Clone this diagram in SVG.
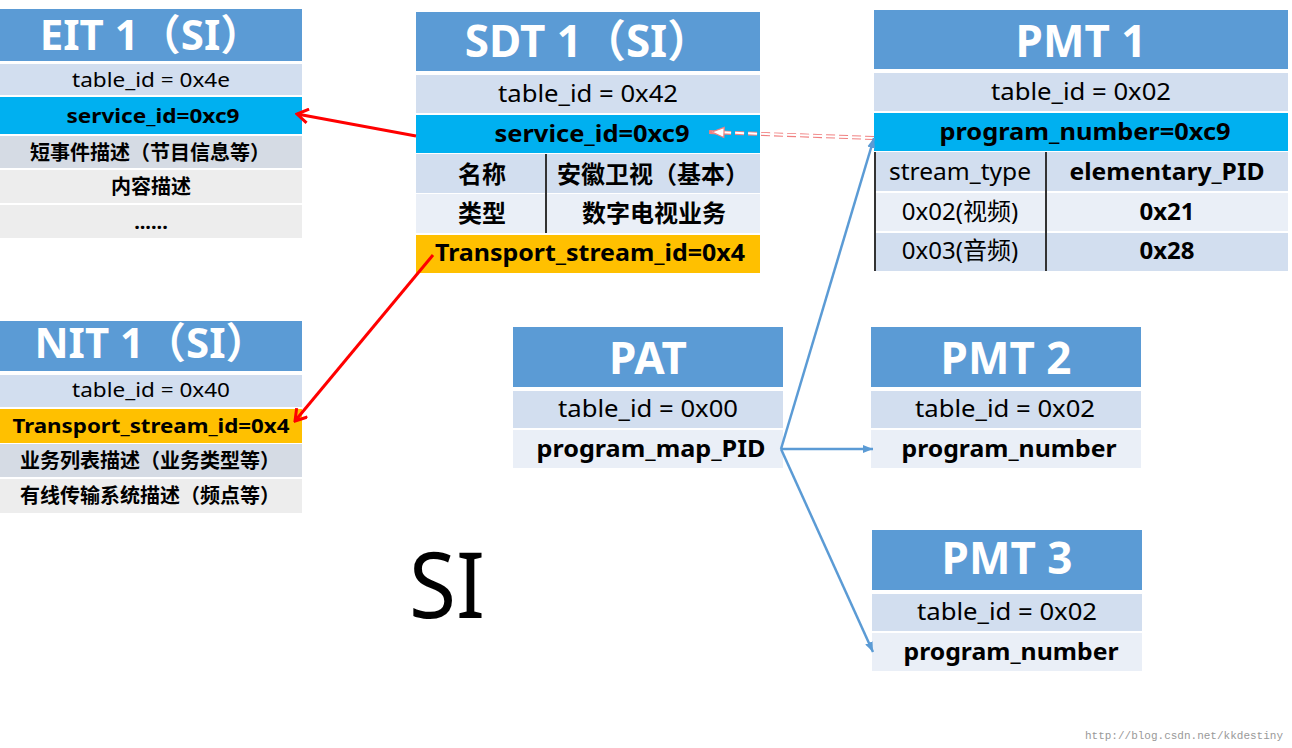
<svg xmlns="http://www.w3.org/2000/svg" width="1292" height="748" viewBox="0 0 1292 748">
<defs>
<style>
text{font-family:'Noto Sans','Noto Sans CJK SC',sans-serif;text-anchor:middle;fill:#000}
.hd{fill:#5B9BD5}
.b1{fill:#D2DEEF}
.b2{fill:#EAEFF7}
.cy{fill:#00B0F0}
.or{fill:#FFC000}
.g1{fill:#D5DBE4}
.g2{fill:#EDEDED}
.ht{font-size:42px;font-weight:bold;fill:#FFFFFF}
.t{font-size:24px}
.tb{font-size:24px;font-weight:bold}
.s{font-size:20px}
.sb{font-size:20px;font-weight:bold}
.div{stroke:#333;stroke-width:2}
.red{stroke:#FF0000;stroke-width:3;fill:none}
.blue{stroke:#5B9BD5;stroke-width:2.5;fill:none}
</style>
<marker id="ra" viewBox="0 0 16 16" refX="14" refY="8" markerWidth="16" markerHeight="16" orient="auto" markerUnits="userSpaceOnUse">
<path d="M3,1 L14,8 L3,15" fill="none" stroke="#FF0000" stroke-width="3"/>
</marker>
<marker id="ba" viewBox="0 0 10 10" refX="10" refY="5" markerWidth="10" markerHeight="10" orient="auto" markerUnits="userSpaceOnUse">
<path d="M0,1 L10,5 L0,9 z" fill="#5B9BD5"/>
</marker>
<marker id="da" viewBox="0 0 14 14" refX="13" refY="7" markerWidth="14" markerHeight="14" orient="auto" markerUnits="userSpaceOnUse">
<path d="M1,2 L13,7 L1,12 z" fill="#FFFFFF" stroke="#F08080" stroke-width="1.2"/>
</marker>
</defs>
<rect width="1292" height="748" fill="#FFFFFF"/>

<g id="eit1">
<rect class="hd" x="0" y="9" width="302" height="52"/>
<text class="ht" x="151" y="50">EIT 1（SI）</text>
<rect class="b1" x="0" y="64" width="302" height="31"/>
<text class="s" x="151" y="87" textLength="158" lengthAdjust="spacingAndGlyphs">table_id = 0x4e</text>
<rect class="cy" x="0" y="97" width="302" height="37"/>
<text class="sb" x="153" y="123" textLength="173" lengthAdjust="spacingAndGlyphs">service_id=0xc9</text>
<rect class="g1" x="0" y="136" width="302" height="32"/>
<text class="sb" x="150" y="160">短事件描述（节目信息等）</text>
<rect class="g2" x="0" y="170" width="302" height="33"/>
<text class="sb" x="151" y="194">内容描述</text>
<rect class="g2" x="0" y="205" width="302" height="33"/>
<text class="sb" x="151" y="229">......</text>
</g>

<g id="sdt1">
<rect class="hd" x="416" y="12" width="344" height="59"/>
<text class="ht" x="588" y="57" style="font-size:44px">SDT 1（SI）</text>
<rect class="b1" x="416" y="75" width="344" height="38"/>
<text class="t" x="588" y="102" textLength="180" lengthAdjust="spacingAndGlyphs">table_id = 0x42</text>
<rect class="cy" x="416" y="115" width="344" height="38"/>
<text class="tb" x="592" y="142" textLength="195" lengthAdjust="spacingAndGlyphs">service_id=0xc9</text>
<rect class="b1" x="416" y="154" width="344" height="39"/>
<text class="tb" x="482" y="183">名称</text>
<text class="tb" x="653" y="183">安徽卫视（基本）</text>
<rect class="b2" x="416" y="194" width="344" height="39"/>
<text class="tb" x="482" y="222">类型</text>
<text class="tb" x="654" y="222">数字电视业务</text>
<line class="div" x1="546" y1="154" x2="546" y2="233"/>
<rect class="or" x="416" y="235" width="344" height="38"/>
<text class="tb" x="590" y="261" textLength="310" lengthAdjust="spacingAndGlyphs">Transport_stream_id=0x4</text>
</g>

<g id="pmt1">
<rect class="hd" x="874" y="10" width="414" height="59"/>
<text class="ht" x="1081" y="57" style="font-size:44px">PMT 1</text>
<rect class="b1" x="874" y="73" width="414" height="38"/>
<text class="t" x="1081" y="100" textLength="180" lengthAdjust="spacingAndGlyphs">table_id = 0x02</text>
<rect class="cy" x="874" y="113" width="414" height="38"/>
<text class="tb" x="1085" y="140" textLength="291" lengthAdjust="spacingAndGlyphs">program_number=0xc9</text>
<rect class="b1" x="874" y="152" width="414" height="39"/>
<text class="t" x="960" y="180" textLength="142" lengthAdjust="spacingAndGlyphs">stream_type</text>
<text class="tb" x="1167" y="180" textLength="195" lengthAdjust="spacingAndGlyphs">elementary_PID</text>
<rect class="b2" x="874" y="193" width="414" height="38"/>
<text class="t" x="960" y="220">0x02(视频)</text>
<text class="tb" x="1167" y="220">0x21</text>
<rect class="b1" x="874" y="233" width="414" height="38"/>
<text class="t" x="960" y="259">0x03(音频)</text>
<text class="tb" x="1167" y="259">0x28</text>
<line class="div" x1="875" y1="152" x2="875" y2="271"/>
<line class="div" x1="1046" y1="152" x2="1046" y2="271"/>
</g>

<g id="nit1">
<rect class="hd" x="0" y="321" width="302" height="50"/>
<text class="ht" x="151" y="358">NIT 1（SI）</text>
<rect class="b1" x="0" y="375" width="302" height="32"/>
<text class="s" x="151" y="397" textLength="158" lengthAdjust="spacingAndGlyphs">table_id = 0x40</text>
<rect class="or" x="0" y="409" width="302" height="34"/>
<text class="sb" x="151" y="433" textLength="277" lengthAdjust="spacingAndGlyphs">Transport_stream_id=0x4</text>
<rect class="g1" x="0" y="444" width="302" height="33"/>
<text class="sb" x="150" y="468">业务列表描述（业务类型等）</text>
<rect class="g2" x="0" y="479" width="302" height="34"/>
<text class="sb" x="150" y="503">有线传输系统描述（频点等）</text>
</g>

<g id="pat">
<rect class="hd" x="513" y="327" width="270" height="60"/>
<text class="ht" x="648" y="374" style="font-size:44px">PAT</text>
<rect class="b1" x="513" y="391" width="270" height="37"/>
<text class="t" x="648" y="417" textLength="180" lengthAdjust="spacingAndGlyphs">table_id = 0x00</text>
<rect class="b2" x="513" y="430" width="270" height="38"/>
<text class="tb" x="651" y="457" textLength="229" lengthAdjust="spacingAndGlyphs">program_map_PID</text>
</g>

<g id="pmt2">
<rect class="hd" x="871" y="327" width="270" height="60"/>
<text class="ht" x="1006" y="374" style="font-size:44px">PMT 2</text>
<rect class="b1" x="871" y="391" width="270" height="37"/>
<text class="t" x="1005" y="417" textLength="180" lengthAdjust="spacingAndGlyphs">table_id = 0x02</text>
<rect class="b2" x="871" y="430" width="270" height="38"/>
<text class="tb" x="1009" y="457" textLength="215" lengthAdjust="spacingAndGlyphs">program_number</text>
</g>

<g id="pmt3">
<rect class="hd" x="872" y="530" width="270" height="60"/>
<text class="ht" x="1007" y="574" style="font-size:44px">PMT 3</text>
<rect class="b1" x="872" y="594" width="270" height="37"/>
<text class="t" x="1007" y="620" textLength="180" lengthAdjust="spacingAndGlyphs">table_id = 0x02</text>
<rect class="b2" x="872" y="633" width="270" height="38"/>
<text class="tb" x="1011" y="660" textLength="215" lengthAdjust="spacingAndGlyphs">program_number</text>
</g>

<g id="connectors">
<line class="red" x1="416" y1="136" x2="297" y2="114" marker-end="url(#ra)"/>
<line class="red" x1="433" y1="255" x2="295" y2="421" marker-end="url(#ra)"/>
<line x1="874" y1="138" x2="706" y2="132" stroke="#F08080" stroke-width="4" stroke-dasharray="9 4"/>
<line x1="874" y1="138" x2="712" y2="132" stroke="#FFFFFF" stroke-width="2" stroke-dasharray="9 4" marker-end="url(#da)"/>
<line class="blue" x1="781" y1="449" x2="874" y2="138" marker-end="url(#ba)"/>
<line class="blue" x1="781" y1="449" x2="873" y2="449" marker-end="url(#ba)"/>
<line class="blue" x1="781" y1="449" x2="873" y2="652" marker-end="url(#ba)"/>
</g>

<text x="409" y="618" style="font-size:92px;text-anchor:start" textLength="76" lengthAdjust="spacingAndGlyphs">SI</text>
<text x="1283" y="739" style="font-family:'Liberation Mono',monospace;font-size:11px;fill:#999999;text-anchor:end">http://blog.csdn.net/kkdestiny</text>
</svg>
